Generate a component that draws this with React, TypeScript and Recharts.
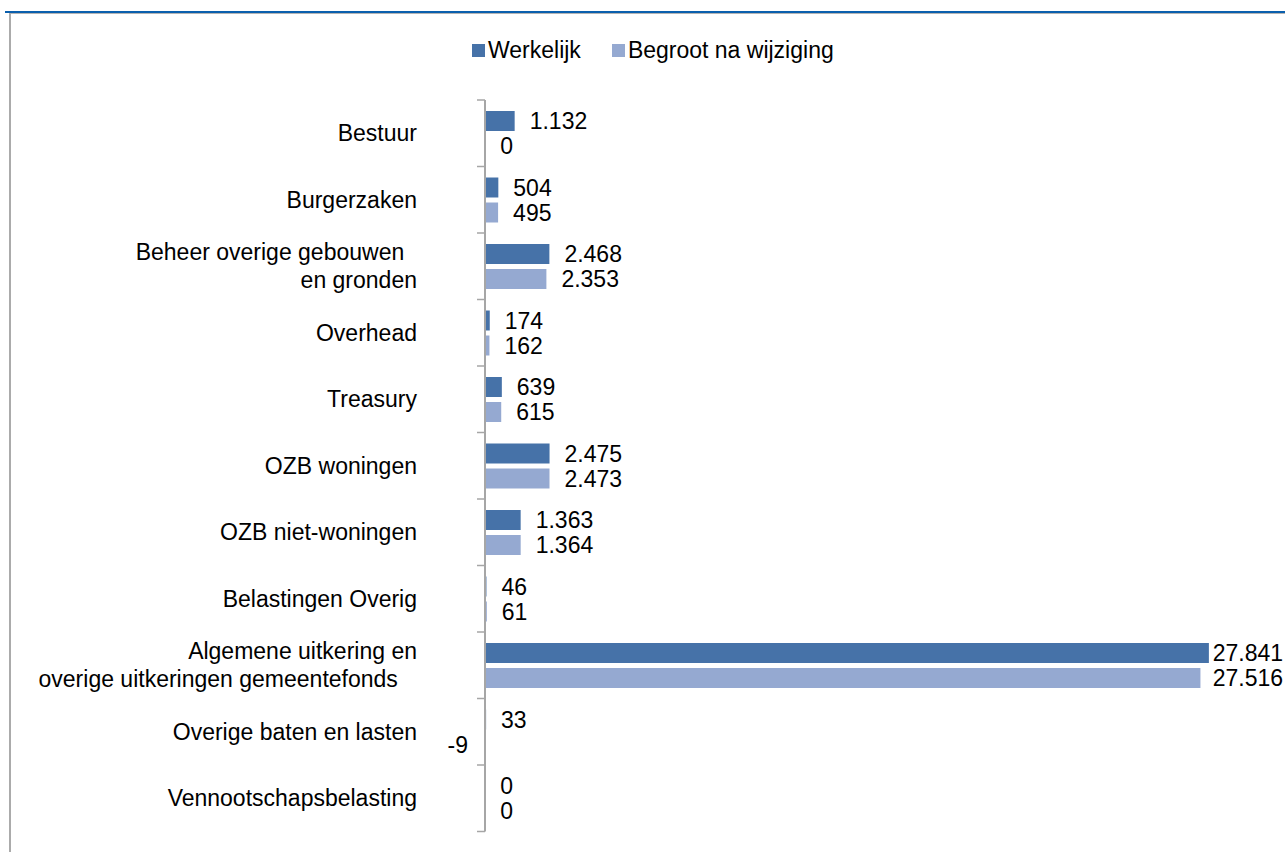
import React from 'react';
import { BarChart, Bar, XAxis, YAxis, Legend, LabelList } from 'recharts';

// categorieen (regelafbreking met \n, zoals in de bron)
const categories = [
  'Bestuur',
  'Burgerzaken',
  'Beheer overige gebouwen\u00a0\u00a0\nen gronden',
  'Overhead',
  'Treasury',
  'OZB woningen',
  'OZB niet-woningen',
  'Belastingen Overig',
  'Algemene uitkering en\noverige uitkeringen gemeentefonds\u00a0\u00a0\u00a0',
  'Overige baten en lasten',
  'Vennootschapsbelasting',
];

const werkelijk = [1132, 504, 2468, 174, 639, 2475, 1363, 46, 27841, 33, 0];
const begroot = [0, 495, 2353, 162, 615, 2473, 1364, 61, 27516, -9, 0];

const seriesNames = ['Werkelijk', 'Begroot na wijziging'];
const xDomain = [0, 30000];

const data = categories.map((name, i) => ({
  name,
  werkelijk: werkelijk[i],
  begroot: begroot[i],
}));

const WIDTH = 1285;
const HEIGHT = 852;
const AXIS_X = 485;
const PLOT_TOP = 100;
const PLOT_BOTTOM = 20.5;
const BAND = (HEIGHT - PLOT_TOP - PLOT_BOTTOM) / categories.length;
const FONT = '"Liberation Sans", Arial, sans-serif';
const DARK = '#4672a8';
const LIGHT = '#95a9d1';
const AXIS_GREY = '#a6a6a6';
const seriesColors = [DARK, LIGHT];

const fmt = (v: number) => {
  const s = String(Math.abs(v)).replace(/\B(?=(\d{3})+(?!\d))/g, '.');
  return v < 0 ? '-' + s : s;
};

// grove breedte van een label in Arial-maten, om binnen de rand te blijven
const textWidth = (s: string) =>
  s.split('').reduce((w, c) => w + (c === '.' ? 0.278 : c === '-' ? 0.333 : 0.556), 0) * 23;

function CategoryTick(props: any) {
  const { y, payload, index } = props;
  const lines = String(payload.value).split('\n');
  const tx = AXIS_X - 68;
  const top = y - BAND / 2;
  return (
    <g>
      <line x1={AXIS_X - 8} x2={AXIS_X} y1={top} y2={top} stroke={AXIS_GREY} strokeWidth={1.5} />
      {index === categories.length - 1 && (
        <line x1={AXIS_X - 8} x2={AXIS_X} y1={y + BAND / 2} y2={y + BAND / 2} stroke={AXIS_GREY} strokeWidth={1.5} />
      )}
      <text x={tx} y={y} textAnchor="end" dominantBaseline="central" fontSize={23} fontFamily={FONT} fill="#000">
        {lines.map((l, i) => (
          <tspan key={i} x={tx} dy={i === 0 ? -(lines.length - 1) * 14 : 28}>
            {l}
          </tspan>
        ))}
      </text>
    </g>
  );
}

function ValueLabel(props: any) {
  const x = Number(props.x);
  const y = Number(props.y);
  const width = Number(props.width) || 0;
  const height = Number(props.height) || 0;
  const value = Number(props.value);
  const neg = value < 0;
  const txt = fmt(value);
  let lx = neg ? Math.min(x, x + width) - 17 : Math.max(x, x + width) + 15;
  if (!neg) lx = Math.min(lx, WIDTH - 2 - textWidth(txt));
  return (
    <text
      x={lx}
      y={y + height / 2}
      textAnchor={neg ? 'end' : 'start'}
      dominantBaseline="central"
      fontSize={23}
      fontFamily={FONT}
      fill="#000"
    >
      {txt}
    </text>
  );
}

function LegendContent() {
  return (
    <div style={{ display: 'flex', alignItems: 'center', fontFamily: FONT, fontSize: 23, color: '#000' }}>
      {seriesNames.map((name, i) => (
        <div key={name} style={{ display: 'flex', alignItems: 'center', marginLeft: i === 0 ? 0 : 31 }}>
          <span style={{ width: 13, height: 13, background: seriesColors[i], marginRight: 3, display: 'inline-block' }} />
          <span>{name}</span>
        </div>
      ))}
    </div>
  );
}

export default function App() {
  return (
    <div style={{ position: 'relative', width: WIDTH, height: HEIGHT, background: '#fff' }}>
      <style>{'body{margin:0}'}</style>
      <div style={{ position: 'absolute', left: 5, top: 11, width: WIDTH - 5, height: 2, background: '#0a5fad' }} />
      <div style={{ position: 'absolute', left: 9, top: 13, width: WIDTH - 9, height: 1, background: '#b4b4b4' }} />
      <div style={{ position: 'absolute', left: 9, top: 13, width: 2, height: HEIGHT - 13, background: '#ababab' }} />
      <div style={{ position: 'absolute', left: 0, top: 0 }}>
        <BarChart
          width={WIDTH}
          height={HEIGHT}
          data={data}
          layout="vertical"
          barGap={5}
          margin={{ top: PLOT_TOP, right: 20, bottom: PLOT_BOTTOM, left: 0 }}
        >
          <XAxis type="number" domain={xDomain} hide />
          <YAxis
            type="category"
            dataKey="name"
            width={AXIS_X}
            axisLine={{ stroke: AXIS_GREY, strokeWidth: 2 }}
            tickLine={false}
            tickSize={0}
            tickMargin={68}
            tick={CategoryTick}
            interval={0}
          />
          <Legend
            layout="horizontal"
            verticalAlign="middle"
            align="center"
            wrapperStyle={{ top: 37, left: 472, width: 500, height: 28 }}
            content={LegendContent}
          />
          <Bar
            dataKey="werkelijk"
            name={seriesNames[0]}
            fill={DARK}
            barSize={20}
            minPointSize={0.01}
            isAnimationActive={false}
          >
            <LabelList dataKey="werkelijk" content={ValueLabel} />
          </Bar>
          <Bar
            dataKey="begroot"
            name={seriesNames[1]}
            fill={LIGHT}
            barSize={20}
            minPointSize={0.01}
            isAnimationActive={false}
          >
            <LabelList dataKey="begroot" content={ValueLabel} />
          </Bar>
        </BarChart>
      </div>
    </div>
  );
}
